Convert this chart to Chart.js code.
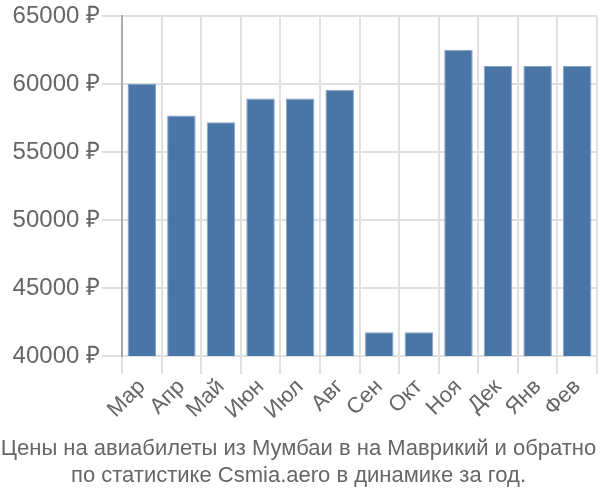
<!DOCTYPE html>
<html>
<head>
<meta charset="utf-8">
<script src="https://cdn.jsdelivr.net/npm/chart.js@4"></script>
<style>
  html, body { margin: 0; padding: 0; background: #fff; }
  #wrap { width: 600px; height: 500px; }
</style>
</head>
<body>
<div id="wrap"><canvas id="grafico"></canvas></div>
<script>
"use strict"

const meses = ['Мар', 'Апр', 'Май', 'Июн', 'Июл', 'Авг', 'Сен', 'Окт', 'Ноя', 'Дек', 'Янв', 'Фев'];
const precios = [60050, 57700, 57200, 58950, 58950, 59600, 41750, 41750, 62550, 61350, 61350, 61350];
const titulo = ['Цены на авиабилеты из Мумбаи в на Маврикий и обратно', 'по статистике Csmia.aero в динамике за год.'];

Chart.defaults.font.family = '"Liberation Sans", Arial, sans-serif';
Chart.defaults.color = '#666';

new Chart(document.getElementById('grafico'), {
    type: 'bar',
    data: {
        labels: meses,
        datasets: [{
            data: precios,
            backgroundColor: '#4a76a7',
            borderColor: 'rgba(120,155,195,0.9)',
            borderWidth: 1,
            categoryPercentage: 0.72,
            barPercentage: 1
        }]
    },
    options: {
        responsive: true,
        maintainAspectRatio: false,
        animation: false,
        layout: { padding: { top: 5, right: 3, left: 0, bottom: 7 } },
        plugins: {
            legend: { display: false },
            tooltip: { enabled: false },
            title: {
                display: true,
                position: 'bottom',
                text: titulo,
                color: '#666',
                font: { size: 22, weight: 'normal', lineHeight: 1.2 },
                padding: { top: 12, bottom: 4 }
            }
        },
        scales: {
            x: {
                grid: { color: '#e0e0e0', lineWidth: 2, offset: true, tickLength: 18 },
                border: { color: '#e0e0e0', width: 2 },
                ticks: { font: { size: 22 }, maxRotation: 45, minRotation: 45, padding: 0, autoSkip: false }
            },
            y: {
                min: 40000,
                max: 65000,
                grid: { color: '#e0e0e0', lineWidth: 2, tickLength: 20 },
                border: { color: '#aaa', width: 2 },
                ticks: {
                    stepSize: 5000,
                    font: { size: 24 },
                    padding: 2,
                    callback: v => v + ' ₽'
                },
                afterFit: s => { s.width = 122; }
            }
        }
    }
});
</script>
</body>
</html>
